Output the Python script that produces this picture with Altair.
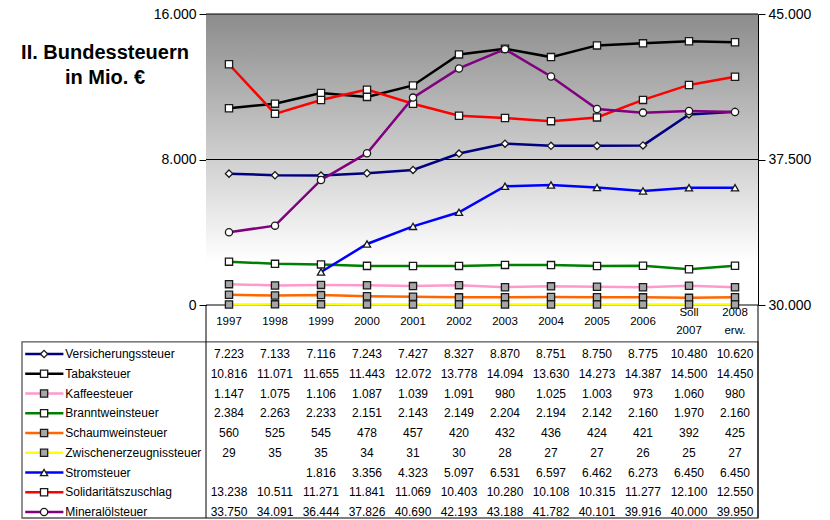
import altair as alt
import pandas as pd

# Kategorien (Spalten der Tabelle)
jahre = ["1997", "1998", "1999", "2000", "2001", "2002", "2003", "2004",
         "2005", "2006", "Soll 2007", "2008 erw."]

reihen = ["Versicherungssteuer", "Tabaksteuer", "Kaffeesteuer",
          "Branntweinsteuer", "Schaumweinsteuer", "Zwischenerzeugnissteuer",
          "Stromsteuer", "Solidaritätszuschlag", "Mineralölsteuer"]

# Aufkommen in Mio. Euro
versicherung = [7223, 7133, 7116, 7243, 7427, 8327, 8870, 8751, 8750, 8775, 10480, 10620]
tabak = [10816, 11071, 11655, 11443, 12072, 13778, 14094, 13630, 14273, 14387, 14500, 14450]
kaffee = [1147, 1075, 1106, 1087, 1039, 1091, 980, 1025, 1003, 973, 1060, 980]
branntwein = [2384, 2263, 2233, 2151, 2143, 2149, 2204, 2194, 2142, 2160, 1970, 2160]
schaumwein = [560, 525, 545, 478, 457, 420, 432, 436, 424, 421, 392, 425]
zwischen = [29, 35, 35, 34, 31, 30, 28, 27, 27, 26, 25, 27]
strom = [None, None, 1816, 3356, 4323, 5097, 6531, 6597, 6462, 6273, 6450, 6450]
soli = [13238, 10511, 11271, 11841, 11069, 10403, 10280, 10108, 10315, 11277, 12100, 12550]
mineraloel = [33750, 34091, 36444, 37826, 40690, 42193, 43188, 41782, 40101, 39916, 40000, 39950]

werte = [versicherung, tabak, kaffee, branntwein, schaumwein, zwischen,
         strom, soli, mineraloel]

# Darstellung der Reihen
farben = ["#000080", "#000000", "#ff99cc", "#008000", "#ff6600", "#ffff00",
          "#0000ff", "#ff0000", "#800080"]
symbole = ["diamond", "square", "square", "square", "square", "square",
           "triangle-up", "square", "circle"]
fuellung = ["#ffffff", "#ffffff", "#a6a6a6", "#ffffff", "#a6a6a6", "#a6a6a6",
            "#ffffff", "#ffffff", "#ffffff"]


def de(v):
    return "" if v is None else f"{v:,}".replace(",", ".")


zeilen = []
for r, (name, reihe) in enumerate(zip(reihen, werte)):
    for j, (jahr, v) in enumerate(zip(jahre, reihe)):
        zeilen.append({"Reihe": name, "Jahr": jahr, "Spalte": j, "Zeile": r,
                       "Wert": v, "Text": de(v)})
df = pd.DataFrame(zeilen)
df_links = df[df["Reihe"] != "Mineralölsteuer"]
df_rechts = df[df["Reihe"] == "Mineralölsteuer"]
df_leg = pd.DataFrame({"Reihe": reihen, "Zeile": list(range(len(reihen)))})
df_kopf = pd.DataFrame({"Jahr": jahre})

W, H = 552, 291
FONT = "Liberation Sans"
de_fmt = "replace(format(datum.value, ','), ',', '.')"

farbskala = alt.Scale(domain=reihen, range=farben)
formskala = alt.Scale(domain=reihen, range=symbole)
fuellskala = alt.Scale(domain=reihen, range=fuellung)

x_jahr = alt.X("Jahr:N", sort=jahre, axis=None)
farbe = alt.Color("Reihe:N", scale=farbskala, legend=None)
form = alt.Shape("Reihe:N", scale=formskala, legend=None)
fuell = alt.Fill("Reihe:N", scale=fuellskala, legend=None)
punkt_stil = dict(filled=True, size=52, stroke="#1a1a1a", strokeWidth=1.3, opacity=1)

# Hintergrund mit Farbverlauf und Gitterlinien
hintergrund = alt.Chart(pd.DataFrame({"a": [0]})).mark_rect(
    fill=alt.Gradient(
        gradient="linear", x1=0, x2=0, y1=0, y2=1,
        stops=[alt.GradientStop(color="#8c8c8c", offset=0),
               alt.GradientStop(color="#ffffff", offset=0.85),
               alt.GradientStop(color="#ffffff", offset=1)])
).encode(x=alt.value(0), x2=alt.value(W), y=alt.value(0), y2=alt.value(H))

gitter = alt.Chart(pd.DataFrame({"w": [0, 8000, 16000]})).mark_rule(
    color="black", strokeWidth=1
).encode(y=alt.Y("w:Q", scale=alt.Scale(domain=[0, 16000], nice=False), axis=None))

g_hinter = alt.layer(hintergrund, gitter)

# Linke Achse
y_links = alt.Y("Wert:Q", scale=alt.Scale(domain=[0, 16000], nice=False, zero=False),
                axis=alt.Axis(orient="left", values=[0, 8000, 16000], grid=False,
                              domainColor="black", tickColor="black", tickSize=7,
                              labelFontSize=14, labelPadding=3, labelColor="black",
                              labelFont=FONT, labelExpr=de_fmt, title=None))
basis_l = alt.Chart(df_links)
g_links = alt.layer(
    basis_l.mark_line(strokeWidth=2.5).encode(x=x_jahr, y=y_links, color=farbe,
                                              order="Spalte:Q"),
    basis_l.mark_point(**punkt_stil).encode(x=x_jahr, y=y_links, shape=form, fill=fuell),
)

# Rechte Achse (Mineralölsteuer)
y_rechts = alt.Y("Wert:Q", scale=alt.Scale(domain=[30000, 45000], nice=False, zero=False),
                 axis=alt.Axis(orient="right", values=[30000, 37500, 45000], grid=False,
                               domainColor="black", tickColor="black", tickSize=7,
                               labelFontSize=14, labelPadding=3, labelColor="black",
                               labelFont=FONT, labelExpr=de_fmt, title=None))
basis_r = alt.Chart(df_rechts)
g_rechts = alt.layer(
    basis_r.mark_line(strokeWidth=2.5).encode(x=x_jahr, y=y_rechts, color=farbe,
                                              order="Spalte:Q"),
    basis_r.mark_point(**punkt_stil).encode(x=x_jahr, y=y_rechts, shape=form, fill=fuell),
)

# Datentabelle unter dem Diagramm
tab_y = alt.Scale(domain=[-2.481, 8.30], range=[291, 504], nice=False, zero=False)
tab_x = alt.Scale(domain=[-4, 12], range=[-184, 552], nice=False, zero=False)

werte_text = alt.Chart(df[df["Text"] != ""]).mark_text(
    fontSize=12, font=FONT, color="black"
).encode(x=x_jahr, y=alt.Y("Zeile:Q", scale=tab_y, axis=None), text="Text:N")

kopf_stil = dict(fontSize=11.5, font=FONT, color="black", lineBreak=" ", lineHeight=18)
kopf_1 = alt.Chart(df_kopf).transform_filter(
    "indexof(datum.Jahr, ' ') < 0"
).mark_text(**kopf_stil).encode(x=x_jahr, y=alt.YDatum(-1.62), text="Jahr:N")
kopf_2 = alt.Chart(df_kopf).transform_filter(
    "indexof(datum.Jahr, ' ') >= 0"
).mark_text(dy=-9, **kopf_stil).encode(x=x_jahr, y=alt.YDatum(-1.62), text="Jahr:N")

g_tabelle = alt.layer(werte_text, kopf_1, kopf_2)

rahmen = alt.Chart(pd.DataFrame({"a": [0]})).mark_rect(
    fillOpacity=0, stroke="#555555", strokeWidth=1.3
).encode(x=alt.XDatum(-4, scale=tab_x, axis=None), x2=alt.X2Datum(12),
         y=alt.YDatum(-0.61, scale=tab_y, axis=None), y2=alt.Y2Datum(8.30))

trenner = alt.Chart(pd.DataFrame({"a": [0]})).mark_rule(color="black", strokeWidth=1).encode(
    x=alt.XDatum(0), y=alt.YDatum(-2.481), y2=alt.Y2Datum(8.30))
rand_r = alt.Chart(pd.DataFrame({"a": [0]})).mark_rule(color="black", strokeWidth=1).encode(
    x=alt.XDatum(12), y=alt.YDatum(-2.481), y2=alt.Y2Datum(8.30))

leg = alt.Chart(df_leg)
leg_linie = leg.mark_rule(strokeWidth=2.5).encode(
    x=alt.XDatum(-3.93), x2=alt.X2Datum(-3.1), y=alt.Y("Zeile:Q"), color=farbe)
leg_punkt = leg.mark_point(**punkt_stil).encode(
    x=alt.XDatum(-3.52), y=alt.Y("Zeile:Q"), shape=form, fill=fuell)
leg_name = leg.mark_text(align="left", fontSize=12, font=FONT, color="black").encode(
    x=alt.XDatum(-3.06), y=alt.Y("Zeile:Q"), text="Reihe:N")

g_struktur = alt.layer(rahmen, trenner, rand_r, leg_linie, leg_punkt, leg_name)

titel = alt.Chart(pd.DataFrame({"a": [0]})).mark_text(
    text=["II. Bundessteuern", "in Mio. €"], fontSize=20, fontWeight="bold",
    font=FONT, color="black", align="center", baseline="middle", lineHeight=25
).encode(x=alt.value(-101), y=alt.value(39))

chart = alt.layer(
    g_hinter, g_links, g_rechts, g_tabelle, g_struktur, titel
).resolve_scale(
    x="independent", y="independent"
).properties(
    width=W, height=H,
    autosize=alt.AutoSizeParams(type="none"),
    padding={"left": 206, "top": 14, "right": 72, "bottom": 215},
).configure_view(stroke=None)

chart.save("out.html", embed_options={"renderer": "svg", "actions": False})
